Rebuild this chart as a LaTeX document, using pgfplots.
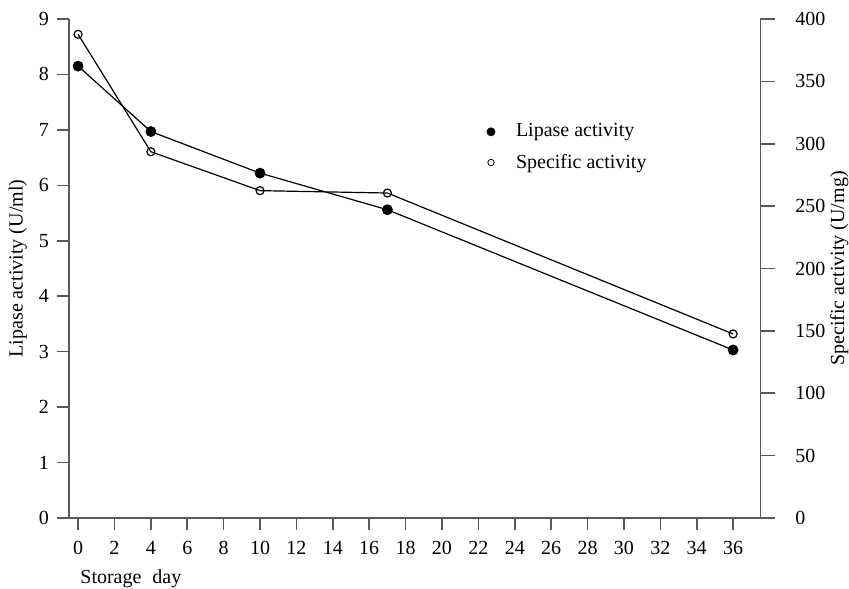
\documentclass[border=0pt]{standalone}
\usepackage{fontspec}
\setmainfont{Liberation Serif}
\usepackage{pgfplots}
\pgfplotsset{compat=1.18}
\begin{document}
\begin{tikzpicture}
\useasboundingbox (-34.5pt,-35pt) rectangle (390pt,259pt);
\pgfplotsset{
  common/.style={
    scale only axis, width=345.7pt, height=249.5pt,
    at={(0pt,0pt)}, anchor=south west,
    xmin=-0.5, xmax=37.5, ymin=0,
    tick align=outside, major tick length=6pt,
    tick style={black!65, line width=0.8pt},
    axis line style={black!65, line width=0.8pt},
    /pgf/number format/assume math mode=true,
    tick label style={font=\fontsize{10}{12}\selectfont},
    label style={font=\fontsize{10}{12}\selectfont},
  }
}
\begin{axis}[common, ymax=9,
  axis x line*=bottom, axis y line*=left,
  xtick={0,2,...,36}, ytick={0,1,...,9},
  xticklabel style={yshift=-2.2pt},
  yticklabel style={xshift=-0.5pt},
  xlabel={Storage\hspace{0.55em}day},
  xlabel style={at={(axis description cs:0,0)}, anchor=base west, inner sep=0pt, xshift=5.5pt, yshift=-32.9pt},
  ylabel={Lipase activity (U/ml)},
  ylabel style={at={(axis description cs:-0.0738,0.5)}, anchor=center},
]
\addplot[black, line width=0.6pt, mark=*, mark size=2.4pt] coordinates {
  (0,8.15) (4,6.97) (10,6.22) (17,5.56) (36,3.03)
};
\end{axis}
\begin{axis}[common, ymax=400,
  axis x line=none, axis y line*=right,
  ytick={0,50,...,400},
  major tick length=7.5pt,
  yticklabel style={xshift=6.5pt},
  ylabel={Specific activity (U/mg)},
  ylabel style={at={(axis description cs:1.114,0.5)}, anchor=center},
  legend style={draw=none, fill=none, at={(axis description cs:0.604,0.799)}, anchor=north west,
    font=\fontsize{10}{12}\selectfont, row sep=3pt, inner sep=0pt,
    /tikz/every odd column/.append style={column sep=8.5pt}},
  legend cell align=left,
]
\addlegendimage{only marks, black, mark=*, mark size=2pt}
\addlegendentry{Lipase activity}
\addlegendimage{only marks, black, mark=o, mark size=1.6pt}
\addlegendentry{Specific activity}
\addplot[black, line width=0.6pt, mark=o, mark size=2pt, mark options={fill=white}] coordinates {
  (0,387.7) (4,293.6) (10,262.4) (17,260.5) (36,147.5)
};
\end{axis}
\end{tikzpicture}
\end{document}
